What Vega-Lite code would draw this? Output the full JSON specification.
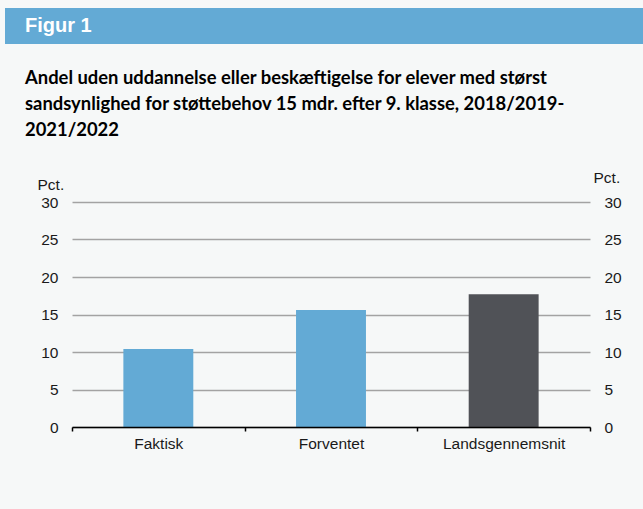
{
  "$schema": "https://vega.github.io/schema/vega-lite/v6.json",
  "background": "#f6f8f8",
  "padding": {"left": 5, "top": 8, "right": 0, "bottom": 57},
  "spacing": 24,
  "config": {"view": {"stroke": null}, "font": "Liberation Sans"},
  "datasets": {
    "header": [{"label": "Figur 1"}],
    "bars": [
      {"kategori": "Faktisk", "pct": 10.4},
      {"kategori": "Forventet", "pct": 15.6},
      {"kategori": "Landsgennemsnit", "pct": 17.7}
    ]
  },
  "vconcat": [
    {
      "width": 638,
      "height": 36,
      "view": {"fill": "#63aad5", "stroke": null},
      "data": {"name": "header"},
      "mark": {"type": "text", "align": "left", "baseline": "middle", "dx": 20, "font": "Liberation Sans", "fontSize": 20, "fontWeight": "bold", "color": "#ffffff"},
      "encoding": {
        "text": {"field": "label", "type": "nominal"},
        "x": {"datum": 0, "type": "quantitative", "scale": {"domain": [0, 1]}, "axis": null}
      }
    },
    {
      "spacing": 19,
      "hconcat": [
        {
          "width": 1,
          "height": 1,
          "data": {"values": []},
          "mark": {"type": "point", "opacity": 0}
        },
        {
          "width": 518,
          "height": 225,
          "data": {"name": "bars"},
          "title": {
            "text": ["Andel uden uddannelse eller beskæftigelse for elever med størst", "sandsynlighed for støttebehov 15 mdr. efter 9. klasse, 2018/2019-", "2021/2022"],
            "anchor": "start",
            "font": "Lato",
            "fontSize": 18.4,
            "fontWeight": "bold",
            "lineHeight": 26,
            "color": "#000000",
            "dx": -12,
            "offset": 31
          },
          "layer": [
            {
              "mark": {"type": "bar", "width": {"band": 0.405}},
              "encoding": {
                "x": {
                  "field": "kategori", "type": "nominal", "sort": null,
                  "scale": {"paddingInner": 0, "paddingOuter": 0},
                  "axis": {"title": null, "labelAngle": 0, "domainColor": "#000000", "domainWidth": 1.7, "tickColor": "#000000", "tickSize": 4, "tickWidth": 1.5, "tickBand": "extent", "labelFont": "Liberation Sans", "labelFontSize": 15.5, "labelColor": "#1a1a1a", "labelPadding": 5, "grid": false, "zindex": 1}
                },
                "y": {
                  "field": "pct", "type": "quantitative",
                  "scale": {"domain": [0, 30], "nice": false},
                  "axis": {"orient": "left", "values": [0, 5, 10, 15, 20, 25, 30], "title": "Pct.", "titleAngle": 0, "titleAlign": "left", "titleBaseline": "alphabetic", "titleX": -35, "titleY": -12.5, "titleFont": "Liberation Sans", "titleFontSize": 15.5, "titleFontWeight": "normal", "titleColor": "#1a1a1a", "labelFont": "Liberation Sans", "labelFontSize": 15.5, "labelColor": "#1a1a1a", "labelPadding": 14, "ticks": false, "tickSize": 0, "domain": false, "grid": true, "gridColor": "#a3a3a3", "gridWidth": 1.3}
                },
                "color": {
                  "field": "kategori", "type": "nominal",
                  "scale": {"domain": ["Faktisk", "Forventet", "Landsgennemsnit"], "range": ["#63aad5", "#63aad5", "#505257"]},
                  "legend": null
                }
              }
            },
            {
              "mark": {"type": "bar", "width": {"band": 0.405}, "opacity": 0},
              "encoding": {
                "x": {"field": "kategori", "type": "nominal", "sort": null},
                "y": {
                  "field": "pct", "type": "quantitative",
                  "axis": {"orient": "right", "values": [0, 5, 10, 15, 20, 25, 30], "title": "Pct.", "titleAngle": 0, "titleAlign": "left", "titleBaseline": "alphabetic", "titleX": 3, "titleY": -20, "titleFont": "Liberation Sans", "titleFontSize": 15.5, "titleFontWeight": "normal", "titleColor": "#1a1a1a", "labelFont": "Liberation Sans", "labelFontSize": 15.5, "labelColor": "#1a1a1a", "labelPadding": 14, "ticks": false, "tickSize": 0, "domain": false, "grid": false}
                }
              }
            }
          ],
          "resolve": {"axis": {"y": "independent"}}
        }
      ]
    }
  ]
}
